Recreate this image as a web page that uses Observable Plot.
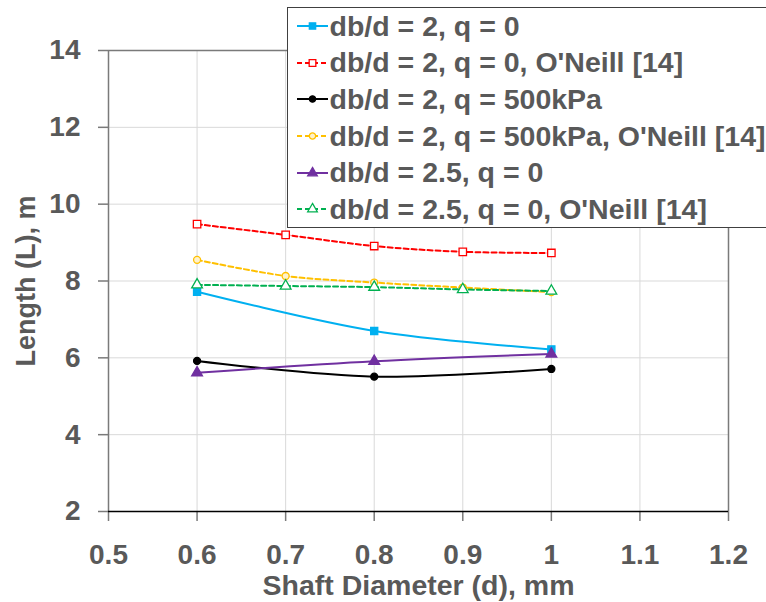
<!DOCTYPE html>
<html><head><meta charset="utf-8">
<script src="https://cdn.jsdelivr.net/npm/d3@7"></script>
<script src="https://cdn.jsdelivr.net/npm/@observablehq/plot@0.6"></script>
<style>
body{margin:0;background:#fff;}
#wrap{position:relative;width:766px;height:602px;overflow:hidden;font-family:"Liberation Sans",Arial,sans-serif;}
#legend{position:absolute;left:287px;top:7px;width:500px;height:221px;border:1.5px solid #404040;background:#fff;box-sizing:border-box;padding-top:0px;}
.row{height:36.6px;display:flex;align-items:center;font-weight:bold;font-size:28.5px;color:#595959;white-space:nowrap;}
.row svg{margin-left:8.5px;margin-right:2px;flex:none;}
</style></head><body><div id="wrap"></div>
<script>
// ---- data ----
const xTicks = [0.5, 0.6, 0.7, 0.8, 0.9, 1, 1.1, 1.2];
const yTicks = [2, 4, 6, 8, 10, 12, 14];
const dThree = [0.6, 0.8, 1.0];
const dFive = [0.6, 0.7, 0.8, 0.9, 1.0];
const L_2_q0 = [7.72, 6.70, 6.22];
const L_2_q0_ONeill = [9.48, 9.20, 8.91, 8.76, 8.73];
const L_2_q500 = [5.92, 5.51, 5.71];
const L_2_q500_ONeill = [8.55, 8.13, 7.96, 7.83, 7.71];
const L_25_q0 = [5.61, 5.91, 6.10];
const L_25_q0_ONeill = [7.90, 7.87, 7.84, 7.78, 7.74];
const seriesNames = [
  "db/d = 2, q = 0",
  "db/d = 2, q = 0, O'Neill [14]",
  "db/d = 2, q = 500kPa",
  "db/d = 2, q = 500kPa, O'Neill [14]",
  "db/d = 2.5, q = 0",
  "db/d = 2.5, q = 0, O'Neill [14]"
];
const xTitle = "Shaft Diameter (d), mm";
const yTitle = "Length (L), m";

// ---- styles ----
const styles = [
  {x: dThree, y: L_2_q0, color: "#00b0f0", dash: null, symbol: "square", fill: "#00b0f0", r: 4},
  {x: dFive, y: L_2_q0_ONeill, color: "#ff0000", dash: "5,3", symbol: "square", fill: "white", r: 4.2},
  {x: dThree, y: L_2_q500, color: "#000000", dash: null, symbol: "circle", fill: "#000000", r: 3.5},
  {x: dFive, y: L_2_q500_ONeill, color: "#ffc000", dash: "5,3", symbol: "circle", fill: "#fff2cc", r: 3.5},
  {x: dThree, y: L_25_q0, color: "#7030a0", dash: null, symbol: "triangle", fill: "#7030a0", r: 4},
  {x: dFive, y: L_25_q0_ONeill, color: "#00b050", dash: "5,3", symbol: "triangle", fill: "white", r: 4}
];
const series = styles.map((s, i) => ({...s, name: seriesNames[i], data: s.x.map((x, j) => ({x, y: s.y[j]}))}));

const axisGray = "#7a7a7a";
const textGray = "#595959";
const marks = [
  Plot.gridX(xTicks, {stroke: "#d9d9d9", strokeOpacity: 1, strokeWidth: 1}),
  Plot.gridY(yTicks, {stroke: "#d9d9d9", strokeOpacity: 1, strokeWidth: 1}),
  Plot.ruleY([14], {stroke: axisGray, strokeWidth: 1.5}),
  Plot.ruleX([1.2], {stroke: axisGray, strokeWidth: 1.5}),
  Plot.ruleX([0.5], {stroke: axisGray, strokeWidth: 1.5}),
  Plot.axisX(xTicks, {tickSize: 10, tickPadding: 23, stroke: axisGray, strokeWidth: 1.5, fill: textGray, fontSize: 28, fontWeight: "bold", tickFormat: d => String(d), label: null}),
  Plot.axisY(yTicks, {tickSize: 10, tickPadding: 18, stroke: axisGray, strokeWidth: 1.5, fill: textGray, fontSize: 28, fontWeight: "bold", tickFormat: d => String(d), label: null}),
  Plot.ruleY([2], {stroke: "#000", strokeWidth: 1.5}),
  Plot.text([xTitle], {frameAnchor: "bottom", lineAnchor: "middle", textAnchor: "middle", dy: 74, fontSize: 28.5, fontWeight: "bold", fill: textGray}),
  Plot.text([yTitle], {frameAnchor: "left", lineAnchor: "middle", textAnchor: "middle", dx: -82, rotate: -90, fontSize: 27, fontWeight: "bold", fill: textGray})
];
for (const s of series) {
  marks.push(Plot.line(s.data, {x: "x", y: "y", stroke: s.color, strokeWidth: 2, strokeDasharray: s.dash, curve: "catmull-rom"}));
}
for (const s of series) {
  marks.push(Plot.dot(s.data, {x: "x", y: "y", symbol: () => s.symbol, r: s.r, stroke: s.color, strokeWidth: 1.3, fill: s.fill}));
}

const chart = Plot.plot({
  width: 766, height: 602,
  marginLeft: 108, marginRight: 38, marginTop: 50, marginBottom: 91,
  x: {domain: [0.5, 1.2]},
  y: {domain: [2, 14]},
  symbol: {type: "identity"},
  style: {fontFamily: "'Liberation Sans', Arial, sans-serif", background: "white", overflow: "visible"},
  marks
});
const wrap = document.getElementById("wrap");
wrap.appendChild(chart);

// ---- legend ----
const legend = document.createElement("div");
legend.id = "legend";
const symMap = {square: d3.symbolSquare, circle: d3.symbolCircle, triangle: d3.symbolTriangle};
for (const s of series) {
  const row = document.createElement("div");
  row.className = "row";
  const sw = d3.create("svg").attr("width", 31).attr("height", 20);
  sw.append("line").attr("x1", 0).attr("x2", 31).attr("y1", 10).attr("y2", 10)
    .attr("stroke", s.color).attr("stroke-width", 2).attr("stroke-dasharray", s.dash);
  sw.append("path").attr("d", d3.symbol(symMap[s.symbol], Math.PI * s.r * s.r * 0.8)())
    .attr("transform", "translate(15.5,10)").attr("fill", s.fill).attr("stroke", s.color).attr("stroke-width", 1.3);
  row.appendChild(sw.node());
  const t = document.createElement("span");
  t.textContent = s.name;
  row.appendChild(t);
  legend.appendChild(row);
}
wrap.appendChild(legend);
</script>
</body></html>
